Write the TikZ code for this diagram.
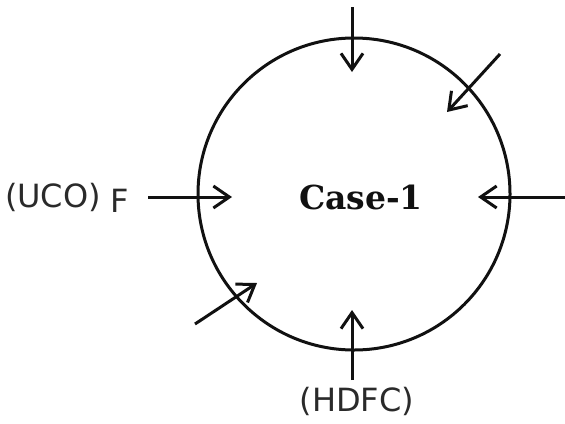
\documentclass[tikz,border=0pt]{standalone}
\usepackage{fontspec}
\setmainfont{DejaVu Sans}
\newfontfamily\caseserif{DejaVu Serif}
\usepackage{xcolor}
\usetikzlibrary{arrows.meta,positioning}
\definecolor{csink}{HTML}{111111}
\definecolor{cstext}{HTML}{2A2A2A}

\begin{document}
\begin{tikzpicture}[x=0.5pt,y=-0.5pt,
    inflow/.style={draw=csink,line width=1.5pt,-{Straight Barb[length=8pt,width=11pt,line width=1.5pt]}},
    banklbl/.style={text=cstext,font=\fontsize{16}{19}\selectfont,inner sep=0pt}]
  \useasboundingbox (0,0) rectangle (565,423);
  % ring
  \node[draw=csink,line width=1.5pt,circle,minimum size=156pt,inner sep=0pt] (ring) at (354,194) {};
  \node[font=\caseserif\bfseries\fontsize{16.5}{19}\selectfont,text=csink] (case) at (361,197) {Case-1};
  % labels
  \node[banklbl] (uco) at (53,197) {(UCO)};
  \node[banklbl] (f) at (120,201) {F};
  \node[banklbl] (hdfc) at (357,401) {(HDFC)};
  % arrow ends
  \coordinate (topS) at (352,7);     \coordinate (topE) at (352,72);
  \coordinate (urS) at (500,54);     \coordinate (urE) at (447,112);
  \coordinate (rtS) at (566,197);    \coordinate (rtE) at (478,197);
  \coordinate (lfS) at (148,197);    \coordinate (lfE) at (232,197);
  \coordinate (llS) at (195,324);    \coordinate (llE) at (257,283);
  \coordinate (btS) at (352,380);    \coordinate (btE) at (352,310);
  \foreach \a in {top,ur,rt,lf,ll,bt}
    \draw[inflow] (\a S) -- (\a E);
\end{tikzpicture}
\end{document}
